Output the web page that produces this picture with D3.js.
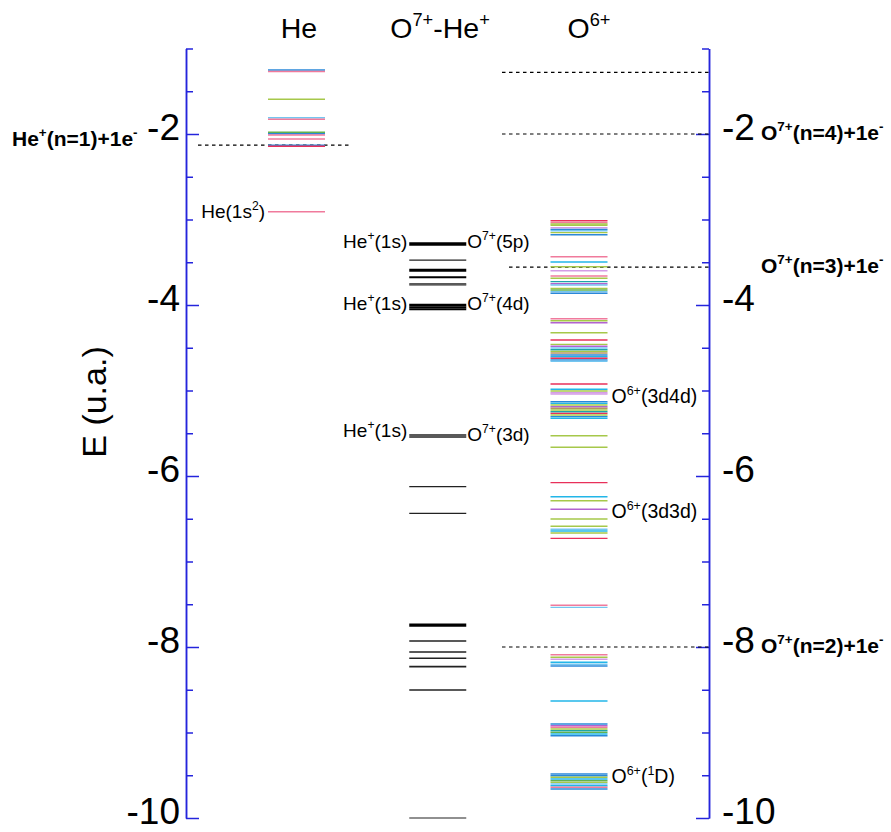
<!DOCTYPE html>
<html><head><meta charset="utf-8">
<script src="https://cdn.jsdelivr.net/npm/d3@7"></script>
<style>body{margin:0;background:#fff} text{font-family:"Liberation Sans",Arial,Helvetica,sans-serif}</style>
</head><body><svg id="c" width="891" height="832"></svg>
<script>
// ---------- data ----------
const columns = ["He", "O7+-He+", "O6+"];
const columnTitles = ["He", "O^{7+}-He^{+}", "O^{6+}"];
const yMajorTicks = [-2, -4, -6, -8, -10];
const yMinorTicks = [-1, -1.5, -2.5, -3, -3.5, -4.5, -5, -5.5, -6.5, -7, -7.5, -8.5, -9, -9.5];
const yTitle = "E (u.a.)";

const heLevels = [-1.251, -1.269, -1.594, -1.809, -1.828, -1.980, -1.996, -2.012, -2.058, -2.132, -2.144, -2.909];
const heKinds  = ["blue","pink","olive","lightblue","pink","green","blue","pink","pink","blue","red","pink"];

const o7HeLevels  = [-3.287, -3.474, -3.594, -3.676, -3.754, -3.766, -4.000, -4.027, -4.050,
                     -5.520, -5.544, -6.125, -6.437, -7.743, -7.930, -8.058, -8.132, -8.230, -8.503, -10.0];
const o7HeWeights = [3.5, 1.2, 3, 2, 1.3, 1.2, 2.5, 2, 2,
                     1.5, 1.5, 1.2, 1.2, 3.2, 1.3, 1.6, 1.4, 1.6, 1.6, 1.2];

const o6Levels = [
  -3.014, -3.037, -3.053, -3.068, -3.096, -3.115, -3.131, -3.154, -3.178,
  -3.435, -3.497, -3.552, -3.599, -3.661, -3.688, -3.727, -3.751, -3.766, -3.805, -3.825, -3.844, -3.863,
  -4.160, -4.184, -4.207, -4.324, -4.409, -4.460, -4.483, -4.503, -4.523, -4.542, -4.561, -4.585, -4.605, -4.623, -4.643, -4.658,
  -4.924, -4.986, -5.006, -5.026, -5.041, -5.131, -5.150, -5.170, -5.190, -5.208, -5.228, -5.248, -5.267, -5.287, -5.306, -5.325,
  -5.529, -5.664,
  -6.078, -6.242, -6.289, -6.389, -6.503, -6.588, -6.623, -6.643, -6.667, -6.729,
  -7.512, -7.536,
  -8.090, -8.120, -8.144, -8.179, -8.202, -8.222, -8.632,
  -8.901, -8.921, -8.939, -8.959, -8.979, -8.998, -9.018, -9.038,
  -9.485, -9.505, -9.524, -9.544, -9.564, -9.583, -9.602, -9.622, -9.640, -9.661];
const o6Kinds = [
  "red","pink","olive","olive","violet","blue","lightblue","olive","blue",
  "pink","cyan","olive","violet","pink","olive","teal","purple","lightblue","olive","green","lightblue","blue",
  "pink","olive","purple","olive","red","olive","purple","lightblue","teal","olive","brown","blue","cyan","red","blue","lightblue",
  "red","cyan","olive","violet","violet","blue","cyan","olive","purple","brown","olive","teal","red","olive","blue","cyan",
  "olive","olive",
  "red","cyan","olive","purple","olive","olive","lightblue","cyan","olive","red",
  "pink","lightblue",
  "pink","olive","violet","cyan","lightblue","blue","cyan",
  "blue","purple","pink","olive","teal","green","cyan","blue",
  "blue","blue","olive","cyan","green","olive","lightblue","cyan","pink","blue"];

const leftThreshold = {value: -2.13, label: "He^{+}(n=1)+1e^{-}"};
const rightThresholds = [-1.28, -2.0, -3.556, -8.0];
const rightThresholdLabels = ["", "O^{7+}(n=4)+1e^{-}", "O^{7+}(n=3)+1e^{-}", "O^{7+}(n=2)+1e^{-}"];

const heAnnot = {value: -2.909, label: "He(1s^{2})"};
const o7LeftAnnot = [{value: -3.287, label: "He^{+}(1s)"}, {value: -4.0, label: "He^{+}(1s)"}, {value: -5.52, label: "He^{+}(1s)"}];
const o7RightAnnot = [{value: -3.287, label: "O^{7+}(5p)"}, {value: -4.0, label: "O^{7+}(4d)"}, {value: -5.52, label: "O^{7+}(3d)"}];
const o6Annot = [{value: -5.03, label: "O^{6+}(3d4d)"}, {value: -6.39, label: "O^{6+}(3d3d)"}, {value: -9.524, label: "O^{6+}(^{1}D)"}];

// ---------- styles ----------
const palette = {red:"#e8305a", pink:"#f07a9c", olive:"#a6c84a", blue:"#2a88d8", lightblue:"#74c6f0",
  cyan:"#22b6e8", violet:"#d49ce6", purple:"#b262d0", teal:"#1ea6a6", brown:"#b49660", green:"#62b24e"};
const axisColor = "#2424dc";

// ---------- drawing ----------
const svg = d3.select("#c");
const y = d3.scaleLinear().domain([-10, -1]).range([818, 48.5]);
const x = d3.scalePoint().domain(columns).range([296.5, 579]);
const halfW = 28.5;

function rich(sel, str, size) {
  const parts = str.split(/(\^\{[^}]*\})/).filter(s => s.length);
  let sup = false;
  parts.forEach(p => {
    const m = p.match(/^\^\{([^}]*)\}$/);
    const t = sel.append("tspan");
    if (m) {
      t.text(m[1]).attr("font-size", size * 0.64).attr("dy", sup ? 0 : -size * 0.42);
      sup = true;
    } else {
      t.text(p).attr("font-size", size).attr("dy", sup ? size * 0.42 : 0);
      sup = false;
    }
  });
}

// axes
function styleAxis(g) {
  g.select(".domain").attr("stroke", axisColor).attr("stroke-width", 1.5);
  g.selectAll(".tick line").attr("stroke", axisColor).attr("stroke-width", 1.5);
  g.selectAll(".tick text").attr("fill", "#000").attr("font-size", 37)
    .attr("font-family", '"Liberation Sans",Arial,sans-serif').attr("dy", "0.14em");
}
const fmt = d => String(d);
const gL = svg.append("g").attr("transform", "translate(186,0)");
gL.append("g").call(d3.axisLeft(y).tickValues(yMinorTicks).tickSizeInner(-7).tickSizeOuter(0).tickFormat("")).call(styleAxis);
gL.append("g").call(d3.axisLeft(y).tickValues(yMajorTicks).tickSizeInner(-13).tickSizeOuter(0).tickPadding(6).tickFormat(fmt)).call(styleAxis);
const gR = svg.append("g").attr("transform", "translate(709,0)");
gR.append("g").call(d3.axisRight(y).tickValues(yMinorTicks).tickSizeInner(-7).tickSizeOuter(0).tickFormat("")).call(styleAxis);
gR.append("g").call(d3.axisRight(y).tickValues(yMajorTicks).tickSizeInner(-13).tickSizeOuter(0).tickPadding(13).tickFormat(fmt)).call(styleAxis);

svg.append("text").attr("transform", `translate(106,402) rotate(-90)`)
  .attr("text-anchor", "middle").attr("font-size", 34).text(yTitle);

// column titles
const titleX = [299, 440, 589];
columns.forEach((c, i) => {
  const t = svg.append("text").attr("x", titleX[i]).attr("y", 38).attr("text-anchor", "middle");
  rich(t, columnTitles[i], 28.5);
});

// thresholds
const dash = "3.5,3.5";
svg.append("line").attr("x1", 198).attr("x2", 350)
  .attr("y1", y(leftThreshold.value)).attr("y2", y(leftThreshold.value))
  .attr("stroke", "#000").attr("stroke-width", 1.2).attr("stroke-dasharray", dash);
{
  const t = svg.append("text").attr("x", 12).attr("y", y(leftThreshold.value) + 1).attr("font-weight", "bold");
  rich(t, leftThreshold.label, 21);
}
rightThresholds.forEach((v, i) => {
  svg.append("line").attr("x1", i === 2 ? 509 : 502).attr("x2", 709).attr("y1", y(v)).attr("y2", y(v))
    .attr("stroke", "#000").attr("stroke-width", 1.2).attr("stroke-dasharray", dash);
  if (rightThresholdLabels[i]) {
    const t = svg.append("text").attr("x", 761).attr("y", y(v) + 6).attr("font-weight", "bold");
    rich(t, rightThresholdLabels[i], 21);
  }
});

// levels
function drawLevels(col, vals, colorFn, widthFn) {
  const cx = x(col);
  svg.append("g").selectAll("line").data(vals).join("line")
    .attr("x1", cx - halfW).attr("x2", cx + halfW)
    .attr("y1", d => y(d)).attr("y2", d => y(d))
    .attr("stroke", (d, i) => colorFn(i)).attr("stroke-width", (d, i) => widthFn(i));
}
drawLevels("He", heLevels, i => palette[heKinds[i]], () => 1.5);
drawLevels("O7+-He+", o7HeLevels, i => o7HeWeights[i] >= 2 ? "#000" : "#222", i => o7HeWeights[i]);
drawLevels("O6+", o6Levels, i => palette[o6Kinds[i]], () => 1.4);

// annotations
{
  const t = svg.append("text").attr("x", x("He") - halfW - 3).attr("y", y(heAnnot.value) + 6).attr("text-anchor", "end");
  rich(t, heAnnot.label, 19);
}
const o7Off = [4, 5, 2];
o7LeftAnnot.forEach((a, i) => {
  const t = svg.append("text").attr("x", x("O7+-He+") - halfW - 2).attr("y", y(a.value) + o7Off[i]).attr("text-anchor", "end");
  rich(t, a.label, 19);
});
const o7ROff = [4, 5, 6];
o7RightAnnot.forEach((a, i) => {
  const t = svg.append("text").attr("x", x("O7+-He+") + halfW + 1).attr("y", y(a.value) + o7ROff[i]);
  rich(t, a.label, 19);
});
const o6Off = [10, 9, 6];
o6Annot.forEach((a, i) => {
  const t = svg.append("text").attr("x", x("O6+") + halfW + 4).attr("y", y(a.value) + o6Off[i]);
  rich(t, a.label, 19.5);
});
</script></body></html>
